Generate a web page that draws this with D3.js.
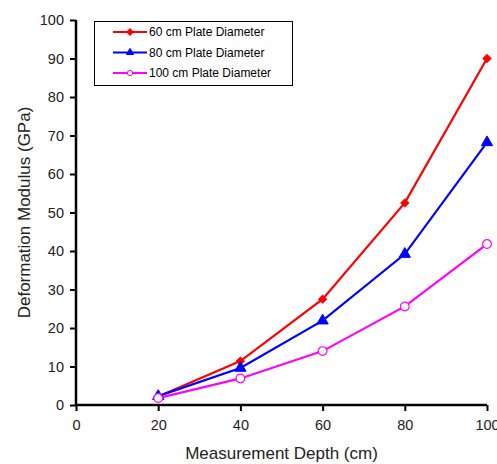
<!DOCTYPE html>
<html>
<head>
<meta charset="utf-8">
<script src="https://cdn.jsdelivr.net/npm/d3@7"></script>
<style>
  body { margin: 0; background: #fff; }
  svg { font-family: Arial, "Liberation Sans", sans-serif; }
</style>
</head>
<body>
<script>
// data
const depths = [20, 40, 60, 80, 100]
const plate60 = [2.2, 11.4, 27.5, 52.5, 90]
const plate80 = [2.3, 9.6, 21.9, 39.2, 68.2]
const plate100 = [1.8, 6.9, 14, 25.6, 41.8]
const seriesNames = ["60 cm Plate Diameter", "80 cm Plate Diameter", "100 cm Plate Diameter"]
const xTicks = [0, 20, 40, 60, 80, 100]
const yTicks = [0, 10, 20, 30, 40, 50, 60, 70, 80, 90, 100]

const w = 497, h = 464
const margin = { top: 20, right: 10, bottom: 59, left: 76 }

const svg = d3.select("body").append("svg").attr("width", w).attr("height", h)

const x = d3.scaleLinear().domain([0, 100]).range([margin.left, 487])
const y = d3.scaleLinear().domain([0, 100]).range([h - margin.bottom, margin.top])

// axes
const xAxis = d3.axisBottom(x).tickValues(xTicks).tickSize(6).tickPadding(9)
const yAxis = d3.axisLeft(y).tickValues(yTicks).tickSize(6).tickPadding(6)

const gx = svg.append("g")
    .attr("transform", "translate(0," + (h - margin.bottom) + ")")
    .call(xAxis)
const gy = svg.append("g")
    .attr("transform", "translate(" + margin.left + ",0)")
    .call(yAxis)

for (const g of [gx, gy]) {
  g.select(".domain").attr("stroke", "#000").attr("stroke-width", 2.5)
  g.selectAll(".tick line").attr("stroke", "#000").attr("stroke-width", 2)
  g.selectAll(".tick text").attr("fill", "#222").attr("font-size", "14.5px")
}
// drop the outer tick stubs of the domain path
gx.select(".domain").attr("d", "M" + x(0) + ",0H" + x(100))
gy.select(".domain").attr("d", "M0," + y(0) + "V" + y(100))

// titles
svg.append("text")
    .attr("x", (x(0) + x(100)) / 2)
    .attr("y", 459)
    .attr("text-anchor", "middle")
    .attr("font-size", "17px")
    .attr("fill", "#222")
    .text("Measurement Depth (cm)")

svg.append("text")
    .attr("transform", "translate(30," + ((y(0) + y(100)) / 2) + ") rotate(-90)")
    .attr("text-anchor", "middle")
    .attr("font-size", "17px")
    .attr("fill", "#222")
    .text("Deformation Modulus (GPa)")

// series
const series = [
  { name: seriesNames[0], values: plate60, color: "#ff0000", shape: d3.symbolSquare, rot: 45, size: 32, fill: true },
  { name: seriesNames[1], values: plate80, color: "#0000ff", shape: d3.symbolTriangle, rot: 0, size: 55, fill: true },
  { name: seriesNames[2], values: plate100, color: "#ff00ff", shape: d3.symbolCircle, rot: 0, size: 60, fill: false }
]

const line = d3.line().x((d, i) => x(depths[i])).y(d => y(d))

series.forEach(s => {
  svg.append("path")
      .attr("d", line(s.values))
      .attr("fill", "none")
      .attr("stroke", s.color)
      .attr("stroke-width", 2.2)

  svg.selectAll(null)
      .data(s.values)
      .enter()
      .append("path")
      .attr("transform", (d, i) => "translate(" + x(depths[i]) + "," + y(d) + ") rotate(" + s.rot + ")")
      .attr("d", d3.symbol().type(s.shape).size(s.size))
      .attr("fill", s.fill ? s.color : "#fff")
      .attr("stroke", s.color)
      .attr("stroke-width", s.fill ? 1 : 1.2)
})

// legend
const legend = svg.append("g")
legend.append("rect")
    .attr("x", 94.5).attr("y", 21.5)
    .attr("width", 198).attr("height", 64)
    .attr("fill", "#fff")
    .attr("stroke", "#000")
    .attr("stroke-width", 1)

series.forEach((s, i) => {
  const ly = 32 + i * 20.5
  legend.append("line")
      .attr("x1", 113).attr("x2", 147)
      .attr("y1", ly).attr("y2", ly)
      .attr("stroke", s.color)
      .attr("stroke-width", 2.2)
  legend.append("path")
      .attr("transform", "translate(130," + ly + ") rotate(" + s.rot + ")")
      .attr("d", d3.symbol().type(s.shape).size(s.fill ? 22 : 22))
      .attr("fill", s.fill ? s.color : "#fff")
      .attr("stroke", s.color)
      .attr("stroke-width", 1)
  legend.append("text")
      .attr("x", 149).attr("y", ly + 4)
      .attr("font-size", "12px")
      .attr("fill", "#000")
      .text(s.name)
})
</script>
</body>
</html>
